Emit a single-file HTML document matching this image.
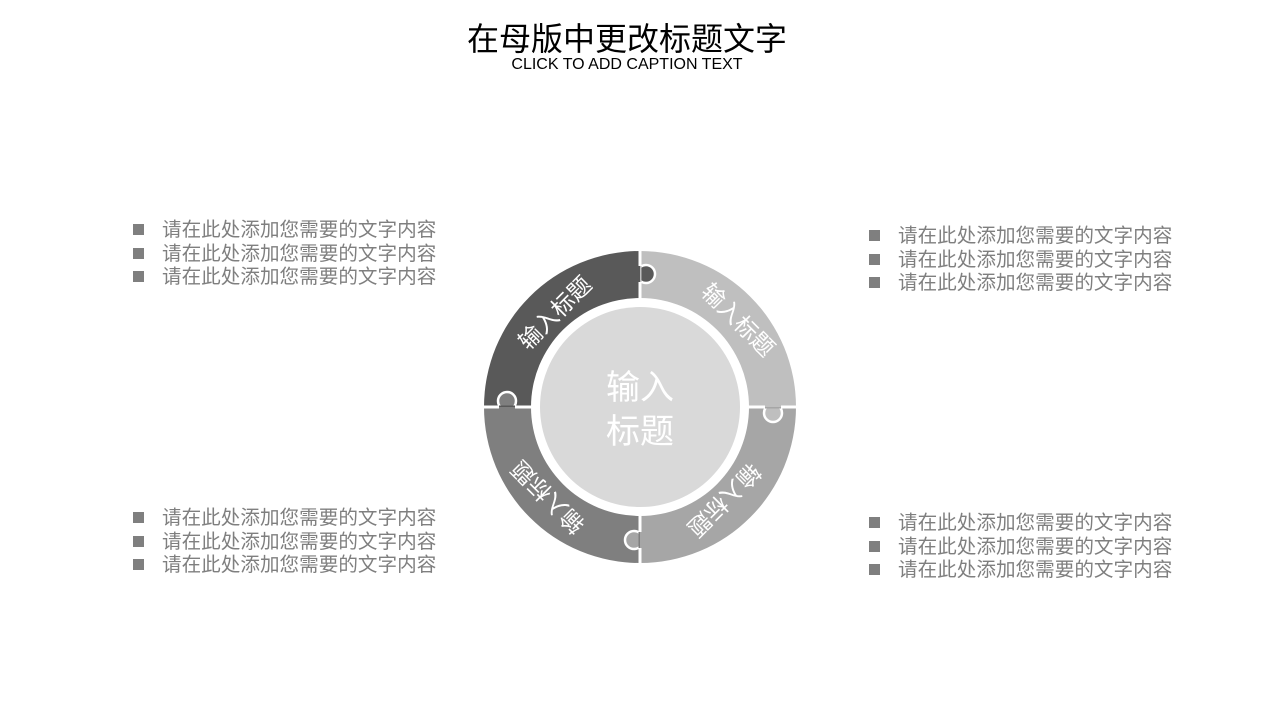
<!DOCTYPE html>
<html><head><meta charset="utf-8"><style>
body{margin:0;background:#fff;width:1280px;height:720px;overflow:hidden;position:relative;font-family:"Liberation Sans","Noto Sans CJK SC",sans-serif}
.t{position:absolute;left:0;width:1254px;text-align:center;color:#000}
.b{position:absolute;font-size:19.6px;color:#7f7f7f;line-height:23.5px;white-space:nowrap}
.b div:before{content:"";display:inline-block;width:11px;height:11px;background:#7f7f7f;margin-right:18px;vertical-align:1px}
</style></head><body>
<div class="t" style="top:14px;font-size:32px">在母版中更改标题文字</div>
<div class="t" style="top:56px;font-size:16px">CLICK TO ADD CAPTION TEXT</div>
<div class="b" style="left:133px;top:219px"><div>请在此处添加您需要的文字内容</div><div>请在此处添加您需要的文字内容</div><div>请在此处添加您需要的文字内容</div></div>
<div class="b" style="left:869px;top:225px"><div>请在此处添加您需要的文字内容</div><div>请在此处添加您需要的文字内容</div><div>请在此处添加您需要的文字内容</div></div>
<div class="b" style="left:133px;top:507px"><div>请在此处添加您需要的文字内容</div><div>请在此处添加您需要的文字内容</div><div>请在此处添加您需要的文字内容</div></div>
<div class="b" style="left:869px;top:512px"><div>请在此处添加您需要的文字内容</div><div>请在此处添加您需要的文字内容</div><div>请在此处添加您需要的文字内容</div></div>
<svg width="1280" height="720" style="position:absolute;left:0;top:0">
<defs>
<clipPath id="c1"><path d="M641.5 251 A156 156 0 0 1 796 405.5 L749 405.5 A109 109 0 0 0 641.5 298Z"/></clipPath>
<clipPath id="c2"><path d="M796 408.5 A156 156 0 0 1 641.5 563 L641.5 516 A109 109 0 0 0 749 408.5Z"/></clipPath>
<clipPath id="c3"><path d="M638.5 563 A156 156 0 0 1 484 408.5 L531 408.5 A109 109 0 0 0 638.5 516Z"/></clipPath>
<clipPath id="c4"><path d="M484 405.5 A156 156 0 0 1 638.5 251 L638.5 298 A109 109 0 0 0 531 405.5Z"/></clipPath>
</defs>
<path d="M640 251 A156 156 0 0 1 796 407 L749 407 A109 109 0 0 0 640 298Z" fill="#bfbfbf"/>
<path d="M796 407 A156 156 0 0 1 640 563 L640 516 A109 109 0 0 0 749 407Z" fill="#a6a6a6"/>
<path d="M640 563 A156 156 0 0 1 484 407 L531 407 A109 109 0 0 0 640 516Z" fill="#7f7f7f"/>
<path d="M484 407 A156 156 0 0 1 640 251 L640 298 A109 109 0 0 0 531 407Z" fill="#595959"/>
<g stroke="#fff" stroke-width="2.5">
<circle cx="646" cy="274" r="9" fill="#595959" clip-path="url(#c1)"/>
<circle cx="773" cy="413" r="9" fill="#bfbfbf" clip-path="url(#c2)"/>
<circle cx="634" cy="540" r="9" fill="#a6a6a6" clip-path="url(#c3)"/>
<circle cx="507" cy="401" r="9" fill="#7f7f7f" clip-path="url(#c4)"/>
</g>
<g stroke="#fff" stroke-width="3">
<line x1="640" y1="248" x2="640" y2="266"/><line x1="640" y1="282" x2="640" y2="300"/>
<line x1="747" y1="407" x2="765" y2="407"/><line x1="781" y1="407" x2="799" y2="407"/>
<line x1="640" y1="514" x2="640" y2="532"/><line x1="640" y1="548" x2="640" y2="566"/>
<line x1="481" y1="407" x2="499" y2="407"/><line x1="515" y1="407" x2="533" y2="407"/>
</g>
<circle cx="640" cy="407" r="100" fill="#d9d9d9"/>
<g fill="#fff" font-family="Liberation Sans, Noto Sans CJK SC, sans-serif" font-size="23" text-anchor="middle">
<text transform="translate(555,313) rotate(-45)" dy="8">输入标题</text>
<text transform="translate(738,320) rotate(45)" dy="8">输入标题</text>
<text transform="translate(724,500) rotate(135)" dy="8">输入标题</text>
<text transform="translate(548,497) rotate(-135)" dy="8">输入标题</text>
<text x="640" y="399" font-size="34">输入</text>
<text x="640" y="443" font-size="34">标题</text>
</g>
</svg>
</body></html>
